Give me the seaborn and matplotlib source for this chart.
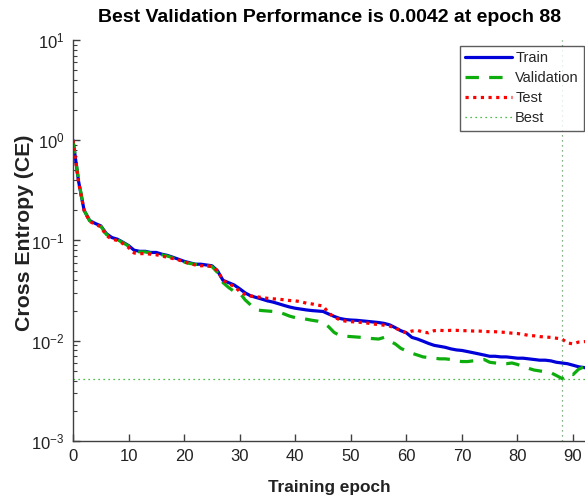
import numpy as np
import pandas as pd
import matplotlib
matplotlib.use("Agg")
import matplotlib.pyplot as plt
import seaborn as sns
from matplotlib.ticker import LogLocator, LogFormatterSciNotation, FixedLocator

epochs = list(range(0, 94))

train = [1.0, 0.39, 0.20, 0.158, 0.148, 0.140, 0.117, 0.107, 0.103, 0.096,
         0.089, 0.080, 0.078, 0.078, 0.076, 0.076, 0.073, 0.071, 0.068, 0.065,
         0.062, 0.060, 0.058, 0.058, 0.057, 0.056, 0.050, 0.040, 0.038, 0.036,
         0.033, 0.030, 0.028, 0.027, 0.026, 0.025, 0.0243, 0.0234, 0.0225, 0.0217,
         0.0211, 0.0207, 0.0203, 0.0200, 0.0198, 0.0196, 0.0185, 0.0175, 0.0167, 0.0163,
         0.0161, 0.0160, 0.0158, 0.0156, 0.0154, 0.0152, 0.0149, 0.0144, 0.0135, 0.0126,
         0.0120, 0.0108, 0.0104, 0.0099, 0.0094, 0.0090, 0.0088, 0.0086, 0.0083, 0.0081,
         0.0080, 0.0078, 0.0076, 0.0074, 0.0072, 0.0070, 0.0070, 0.0069, 0.0069, 0.0068,
         0.0067, 0.0067, 0.0066, 0.0065, 0.0064, 0.0064, 0.0063, 0.0061, 0.0060, 0.0059,
         0.0057, 0.0055, 0.0054, 0.0053]

validation = [1.0, 0.40, 0.20, 0.157, 0.147, 0.139, 0.115, 0.106, 0.102, 0.095,
              0.088, 0.079, 0.077, 0.077, 0.075, 0.075, 0.072, 0.070, 0.067, 0.064,
              0.061, 0.059, 0.058, 0.057, 0.056, 0.055, 0.048, 0.038, 0.034, 0.031,
              0.030, 0.0255, 0.0227, 0.0203, 0.0200, 0.0198, 0.0196, 0.0193, 0.0185, 0.0176,
              0.0170, 0.0168, 0.0164, 0.0160, 0.0157, 0.0152, 0.0138, 0.0121, 0.0113, 0.0111,
              0.0110, 0.0109, 0.0108, 0.0106, 0.0105, 0.0104, 0.0108, 0.0099, 0.0093, 0.0084,
              0.0079, 0.0075, 0.0072, 0.0069, 0.0068, 0.0067, 0.0066, 0.0066, 0.0065, 0.0063,
              0.0062, 0.0062, 0.0063, 0.0064, 0.0065, 0.0061, 0.0060, 0.0059, 0.0059, 0.0060,
              0.0058, 0.0055, 0.0053, 0.0051, 0.0050, 0.0049, 0.0048, 0.0045, 0.0042, 0.0047,
              0.0046, 0.0052, 0.0055, 0.0056]

test = [1.0, 0.38, 0.20, 0.155, 0.145, 0.137, 0.112, 0.103, 0.100, 0.093,
        0.085, 0.075, 0.074, 0.074, 0.073, 0.072, 0.070, 0.068, 0.066, 0.064,
        0.061, 0.059, 0.057, 0.056, 0.056, 0.055, 0.050, 0.040, 0.037, 0.035,
        0.031, 0.029, 0.028, 0.0275, 0.027, 0.0265, 0.0262, 0.0260, 0.0256, 0.0252,
        0.0250, 0.0245, 0.0237, 0.0233, 0.0227, 0.0222, 0.0190, 0.0172, 0.0162, 0.0157,
        0.0155, 0.0154, 0.0152, 0.0150, 0.0147, 0.0145, 0.0143, 0.0140, 0.0134, 0.0126,
        0.0120, 0.0125, 0.0127, 0.0122, 0.0120, 0.0126, 0.0127, 0.0126, 0.0127, 0.0127,
        0.0126, 0.0126, 0.0125, 0.0125, 0.0124, 0.0123, 0.0123, 0.0122, 0.0121, 0.0119,
        0.0118, 0.0116, 0.0113, 0.0112, 0.0110, 0.0109, 0.0108, 0.0106, 0.0104, 0.0095,
        0.0093, 0.0097, 0.0098, 0.0099]

best_epoch = 88
best_value = 0.0042
title_text = "Best Validation Performance is 0.0042 at epoch 88"
x_ticks = [0, 10, 20, 30, 40, 50, 60, 70, 80, 90]

sns.set_style("white")
plt.rcParams["font.family"] = ["Liberation Sans", "DejaVu Sans"]
plt.rcParams["mathtext.default"] = "regular"

df = pd.DataFrame({"epoch": epochs, "Train": train,
                   "Validation": validation, "Test": test})

W, H = 585, 498
fig = plt.figure(figsize=(W / 100, H / 100), dpi=100)
ax = fig.add_axes([73 / W, 1 - 441 / H, (W - 73) / W, (441 - 40) / H])

blue = (0, 0, 0.85)
green = (0.05, 0.68, 0.05)
red = (1, 0, 0)

sns.lineplot(data=df, x="epoch", y="Train", ax=ax, color=blue, lw=2.3,
             label="Train")
sns.lineplot(data=df, x="epoch", y="Validation", ax=ax, color=green, lw=2.3,
             label="Validation")
sns.lineplot(data=df, x="epoch", y="Test", ax=ax, color=red, lw=2.3,
             label="Test")
lines = ax.get_lines()
lines[1].set_linestyle((0, (4.2, 3.2)))
lines[2].set_linestyle((0, (1, 1.4)))
lines[2].set_dash_capstyle("butt")

ax.axvline(best_epoch, color=(0.35, 0.6, 0.35), lw=0.9, ls=(0, (1, 3)))
ax.axhline(best_value, color=green, lw=0.9, ls=(0, (1, 3)), label="Best")

ax.set_yscale("log")
ax.set_ylim(1e-3, 1e1)
ax.set_xlim(0, 92.15)
ax.xaxis.set_major_locator(FixedLocator(x_ticks))
ax.yaxis.set_major_locator(LogLocator(base=10, numticks=10))
ax.yaxis.set_minor_locator(LogLocator(base=10, subs=np.arange(2, 10), numticks=20))
ax.yaxis.set_major_formatter(LogFormatterSciNotation())

for s in ["top", "right"]:
    ax.spines[s].set_visible(False)
for s in ["left", "bottom"]:
    ax.spines[s].set_color("#404040")
    ax.spines[s].set_linewidth(1.0)
ax.tick_params(axis="both", which="major", direction="in", length=5, width=1,
               color="#404040", labelsize=12, labelcolor="#222222", pad=6,
               bottom=True, left=True, top=False, right=False)
ax.tick_params(axis="y", which="minor", direction="in", length=3, width=0.8,
               color="#404040", left=True, right=False)
ax.tick_params(axis="x", which="minor", bottom=False, top=False)
ax.set_xlabel("")
ax.set_ylabel("")

leg = ax.legend(loc="upper right", bbox_to_anchor=(0.998, 0.985),
                frameon=True, fancybox=False, fontsize=10.5, handlelength=3.2,
                borderpad=0.35, labelspacing=0.42, handletextpad=0.25,
                borderaxespad=0.0)
leg.get_frame().set_edgecolor("#333333")
leg.get_frame().set_linewidth(1.0)

fig.text(330 / W, 1 - 18 / H, title_text, ha="center", va="center",
         fontsize=14, fontweight="bold", color="black")
fig.text(329 / W, 1 - 487 / H, "Training epoch", ha="center", va="center",
         fontsize=12.4, fontweight="bold", color="#222222")
fig.text(25 / W, 1 - 233 / H, "Cross Entropy (CE)", ha="center", va="center",
         rotation=90, fontsize=15.3, fontweight="bold", color="#222222")

fig.savefig("out.png", dpi=100)
